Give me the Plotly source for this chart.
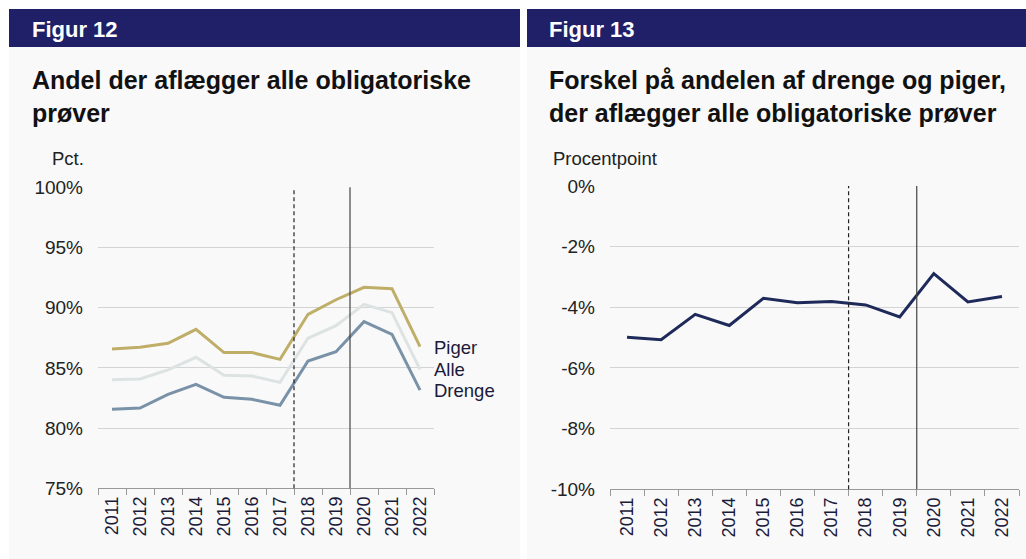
import plotly.graph_objects as go

years = ["2011", "2012", "2013", "2014", "2015", "2016", "2017", "2018", "2019", "2020", "2021", "2022"]
piger = [86.57, 86.71, 87.04, 88.20, 86.27, 86.27, 85.71, 89.45, 90.66, 91.69, 91.58, 86.76]
alle = [84.02, 84.08, 84.83, 85.88, 84.38, 84.33, 83.80, 87.46, 88.51, 90.28, 89.59, 84.88]
drenge = [81.56, 81.67, 82.80, 83.64, 82.56, 82.39, 81.89, 85.57, 86.35, 88.84, 87.79, 83.16]
forskel = [-4.99, -5.07, -4.23, -4.60, -3.70, -3.85, -3.81, -3.92, -4.32, -2.89, -3.82, -3.64]

left_ticks = [75, 80, 85, 90, 95, 100]
left_ticktext = ["75%", "80%", "85%", "90%", "95%", "100%"]
right_ticks = [-10, -8, -6, -4, -2, 0]
right_ticktext = ["-10%", "-8%", "-6%", "-4%", "-2%", "0%"]

W, H = 1026, 559
FONT = "Liberation Sans, Arial, sans-serif"
NAVY = "#1f2068"

def px(x):
    return x / W

def py(y):
    return 1 - y / H

fig = go.Figure()
fig.add_trace(go.Scatter(x=years, y=alle, mode="lines", line=dict(color="#dde3e3", width=3),
                         xaxis="x", yaxis="y", hoverinfo="skip"))
fig.add_trace(go.Scatter(x=years, y=drenge, mode="lines", line=dict(color="#7a92a8", width=3),
                         xaxis="x", yaxis="y", hoverinfo="skip"))
fig.add_trace(go.Scatter(x=years, y=piger, mode="lines", line=dict(color="#bfae68", width=3),
                         xaxis="x", yaxis="y", hoverinfo="skip"))
fig.add_trace(go.Scatter(x=years, y=forskel, mode="lines", line=dict(color="#1e2a5a", width=3),
                         xaxis="x2", yaxis="y2", hoverinfo="skip"))

shapes = [
    dict(type="rect", xref="paper", yref="paper", x0=px(9), x1=px(520), y0=py(560), y1=py(47),
         fillcolor="#f9f9f9", line=dict(width=0), layer="below"),
    dict(type="rect", xref="paper", yref="paper", x0=px(527), x1=px(1027), y0=py(560), y1=py(47),
         fillcolor="#f9f9f9", line=dict(width=0), layer="below"),
    dict(type="rect", xref="paper", yref="paper", x0=px(9), x1=px(520), y0=py(47), y1=py(9),
         fillcolor=NAVY, line=dict(width=0), layer="below"),
    dict(type="rect", xref="paper", yref="paper", x0=px(527), x1=px(1027), y0=py(47), y1=py(9),
         fillcolor=NAVY, line=dict(width=0), layer="below"),
]
for xa, ya in (("x", "y"), ("x2", "y2")):
    shapes.append(dict(type="line", xref=xa, yref=ya + " domain", x0=6.5, x1=6.5, y0=0, y1=1,
                       line=dict(color="#222222", width=1.2, dash="4px,3px")))
    shapes.append(dict(type="line", xref=xa, yref=ya + " domain", x0=8.5, x1=8.5, y0=0, y1=1,
                       line=dict(color="#444444", width=1.2)))

def ann(text, x, y, size, color="#111111", bold=False, xanchor="left", yanchor="middle"):
    t = f"<b>{text}</b>" if bold else text
    return dict(text=t, x=px(x), y=py(y), xref="paper", yref="paper", showarrow=False,
                xanchor=xanchor, yanchor=yanchor, align="left",
                font=dict(family=FONT, size=size, color=color))

annotations = [
    ann("Figur 12", 30, 29, 22, "#ffffff", True),
    ann("Figur 13", 547, 29, 22, "#ffffff", True),
    ann("Andel der aflægger alle obligatoriske<br>prøver", 30, 96, 25, "#111111", True),
    ann("Forskel på andelen af drenge og piger,<br>der aflægger alle obligatoriske prøver", 547, 96, 25, "#111111", True),
    ann("Pct.", 50, 158, 18.5, "#222222"),
    ann("Procentpoint", 551, 158, 18.5, "#222222"),
    ann("Piger", 432, 347, 18.5, "#1a1a3a"),
    ann("Alle", 432, 369, 18.5, "#1a1a3a"),
    ann("Drenge", 432, 390, 18.5, "#1a1a3a"),
]

def xaxis(domain):
    return dict(domain=domain, type="category", categoryorder="array", categoryarray=years,
                range=[-0.5, 11.5], showgrid=False, showline=True, linecolor="#999999", linewidth=1,
                ticks="outside", tickson="boundaries", ticklen=6, tickcolor="#999999",
                tickangle=-90, tickfont=dict(family=FONT, size=18, color="#1a1a3a"),
                fixedrange=True, zeroline=False, automargin=False)

def yaxis(domain, rng, tv, tt, anchor):
    return dict(domain=domain, range=rng, tickmode="array", tickvals=tv, ticktext=tt, showgrid=True,
                gridcolor="#d4d4d4", gridwidth=1, showline=False, zeroline=False, ticks="",
                tickfont=dict(family=FONT, size=19, color="#222222"), anchor=anchor,
                fixedrange=True, ticklabelstandoff=14, automargin=False)

fig.update_layout(
    width=W, height=H, margin=dict(l=0, r=0, t=0, b=0, autoexpand=False),
    paper_bgcolor="#ffffff", plot_bgcolor="rgba(0,0,0,0)", showlegend=False,
    xaxis=dict(xaxis([px(98), px(434)]), anchor="y"),
    yaxis=yaxis([py(488.3), py(187.3)], [75, 100], left_ticks, left_ticktext, "x"),
    xaxis2=dict(xaxis([px(610), px(1019)]), anchor="y2"),
    yaxis2=yaxis([py(489.3), py(186)], [-10, 0], right_ticks, right_ticktext, "x2"),
    shapes=shapes, annotations=annotations,
)

fig.write_html("out.html", config={"displayModeBar": False},
               post_script="document.body.style.margin='0';document.body.style.overflow='hidden';")
